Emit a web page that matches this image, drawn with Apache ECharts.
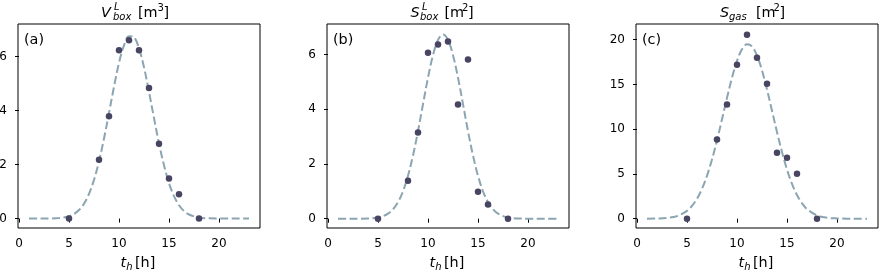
<!DOCTYPE html>
<html><head><meta charset="utf-8">
<script src="https://cdn.jsdelivr.net/npm/echarts@6/dist/echarts.min.js"></script>
<style>html,body{margin:0;padding:0;background:#fff}#c{width:880px;height:273px}</style>
</head><body><div id="c"></div>
<script>
// measured points
const hours = [5, 8, 9, 10, 11, 12, 13, 14, 15, 16, 18];
const vBox = [0, 2.18, 3.79, 6.23, 6.60, 6.23, 4.83, 2.77, 1.48, 0.90, 0];
const sBox = [0, 1.39, 3.15, 6.07, 6.37, 6.48, 4.18, 5.82, 0.99, 0.52, 0];
const sGas = [0, 8.86, 12.77, 17.20, 20.56, 17.99, 15.08, 7.37, 6.82, 5.03, 0];
// fitted curves
const fitHours = [1, 2, 3, 4, 5, 5.5, 6, 6.5, 7, 7.5, 8, 8.5, 9, 9.5, 10, 10.5, 11, 11.5, 12, 12.5, 13, 13.5, 14, 14.5, 15, 15.5, 16, 16.5, 17, 18, 19, 20, 21, 22, 23];
const vBoxFit = [0, 0.0004, 0.0033, 0.019, 0.086, 0.169, 0.315, 0.551, 0.913, 1.43, 2.12, 2.96, 3.91, 4.88, 5.76, 6.41, 6.75, 6.71, 6.30, 5.60, 4.69, 3.72, 2.78, 1.97, 1.31, 0.829, 0.494, 0.279, 0.149, 0.035, 0.007, 0.001, 0, 0, 0];
const sBoxFit = [0, 0.0001, 0.0012, 0.0083, 0.044, 0.093, 0.184, 0.344, 0.605, 1.00, 1.57, 2.31, 3.20, 4.19, 5.16, 5.98, 6.54, 6.74, 6.54, 5.98, 5.16, 4.19, 3.20, 2.31, 1.57, 1.00, 0.605, 0.344, 0.184, 0.044, 0.0083, 0.0012, 0.0001, 0, 0];
const sGasFit = [0.004, 0.020, 0.082, 0.293, 0.878, 1.43, 2.23, 3.34, 4.80, 6.62, 8.75, 11.10, 13.50, 15.75, 17.63, 18.92, 19.48, 19.24, 18.23, 16.56, 14.43, 12.07, 9.68, 7.44, 5.49, 3.89, 2.64, 1.72, 1.07, 0.368, 0.108, 0.027, 0.006, 0.001, 0];
// ticks
const xTicks = [0, 5, 10, 15, 20];
const yTicksA = [0, 2, 4, 6];
const yTicksB = [0, 2, 4, 6];
const yTicksC = [0, 5, 10, 15, 20];
const panelTags = ['(a)', '(b)', '(c)'];

const FONT = 'DejaVu Sans';
const DOT = '#474561';
const LINE = '#8ca5b2';

const panels = [
  {left: 18, pts: vBox, fit: vBoxFit, yt: yTicksA, ymin: -0.35, ymax: 7.2},
  {left: 327, pts: sBox, fit: sBoxFit, yt: yTicksB, ymin: -0.34, ymax: 7.12},
  {left: 636, pts: sGas, fit: sGasFit, yt: yTicksC, ymin: -1.04, ymax: 21.75}
];
const GT = 24, GH = 204, GW = 242;

function T(x, base, text, size, italic) {
  return {type: 'text', x: x, y: base - 0.346 * size, silent: true, z: 100,
    style: {text: text, fontSize: size, fontFamily: FONT, fontStyle: italic ? 'italic' : 'normal',
      fill: '#000', align: 'left', verticalAlign: 'middle', textAlign: 'left', textVerticalAlign: 'middle'}};
}

const grid = [], xAxis = [], yAxis = [], series = [], graphic = [];
panels.forEach((p, i) => {
  grid.push({left: p.left, top: GT, width: GW, height: GH, show: true, borderColor: '#000', borderWidth: 1,
    backgroundColor: 'transparent', containLabel: false, outerBoundsMode: 'none'});
  xAxis.push({type: 'value', gridIndex: i, min: -0.1, max: 24.1,
    axisLine: {show: false}, splitLine: {show: false},
    axisTick: {show: true, length: 4, customValues: xTicks, lineStyle: {color: '#000'}},
    axisLabel: {customValues: xTicks, margin: 10, fontSize: 12, fontFamily: FONT, color: '#000', hideOverlap: false}});
  yAxis.push({type: 'value', gridIndex: i, min: p.ymin, max: p.ymax,
    axisLine: {show: false}, splitLine: {show: false},
    axisTick: {show: true, length: 4, customValues: p.yt, lineStyle: {color: '#000'}},
    axisLabel: {customValues: p.yt, margin: 11, fontSize: 12, fontFamily: FONT, color: '#000', hideOverlap: false}});
  series.push({type: 'line', xAxisIndex: i, yAxisIndex: i, data: fitHours.map((h, k) => [h, p.fit[k]]),
    showSymbol: false, symbol: 'none', smooth: 0.35, z: 2,
    lineStyle: {color: LINE, width: 2, type: [8, 3.5]}});
  series.push({type: 'scatter', xAxisIndex: i, yAxisIndex: i, data: hours.map((h, k) => [h, p.pts[k]]),
    symbolSize: 6.5, z: 3, itemStyle: {color: DOT, opacity: 1}});
  const cx = p.left + GW / 2;
  // panel tag
  graphic.push(T(p.left + 6, 45, panelTags[i], 14.4, false));
  // x axis label t_h [h]
  graphic.push(T(cx - 18.5, 268.5, 't', 14.4, true));
  graphic.push(T(cx - 12.8, 271, 'h', 10, true));
  graphic.push(T(cx - 4, 268.5, '[h]', 14.4, false));
});
// titles
(function () {
  const d = 2.5;
  let cx = panels[0].left + GW / 2;
  graphic.push(T(cx - 38, 15.3 + d, 'V', 14.4, true));
  graphic.push(T(cx - 25, 8.3 + d, 'L', 10, true));
  graphic.push(T(cx - 26, 18 + d, 'box', 10, true));
  graphic.push(T(cx - 1, 15.3 + d, '[m', 14.4, false));
  graphic.push(T(cx + 18.5, 9 + d, '3', 10, false));
  graphic.push(T(cx + 24.5, 15.3 + d, ']', 14.4, false));
  cx = panels[1].left + GW / 2;
  graphic.push(T(cx - 37.5, 15.3 + d, 'S', 14.4, true));
  graphic.push(T(cx - 26, 8.3 + d, 'L', 10, true));
  graphic.push(T(cx - 28, 18 + d, 'box', 10, true));
  graphic.push(T(cx - 3.5, 15.3 + d, '[m', 14.4, false));
  graphic.push(T(cx + 14, 9 + d, '2', 10, false));
  graphic.push(T(cx + 20, 15.3 + d, ']', 14.4, false));
  cx = panels[2].left + GW / 2;
  graphic.push(T(cx - 37, 15.3 + d, 'S', 14.4, true));
  graphic.push(T(cx - 28, 18 + d, 'gas', 10, true));
  graphic.push(T(cx - 1, 15.3 + d, '[m', 14.4, false));
  graphic.push(T(cx + 16.5, 9 + d, '2', 10, false));
  graphic.push(T(cx + 22.5, 15.3 + d, ']', 14.4, false));
})();

const chart = echarts.init(document.getElementById('c'), null, {renderer: 'canvas'});
chart.setOption({animation: false, backgroundColor: '#fff', grid, xAxis, yAxis, series, graphic});
</script>
</body></html>
